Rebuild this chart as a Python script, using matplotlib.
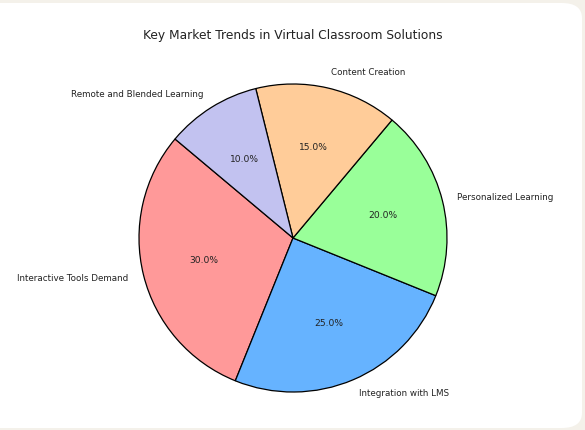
import matplotlib
matplotlib.use("Agg")
import matplotlib.pyplot as plt
from matplotlib.patches import FancyBboxPatch

# data
labels = ["Interactive Tools Demand", "Integration with LMS", "Personalized Learning",
          "Content Creation", "Remote and Blended Learning"]
sizes = [30, 25, 20, 15, 10]
colors = ["#ff9999", "#66b3ff", "#99ff99", "#ffcc99", "#c2c2f0"]

W, H = 585, 430
fig = plt.figure(figsize=(W / 100, H / 100), dpi=100)
fig.patch.set_facecolor("#f4f1ea")

# white card with rounded corners (left side runs off the image)
card = FancyBboxPatch((-30 / W, 2 / H), 612 / W, 425 / H,
                      boxstyle="round,pad=0,rounding_size=0.035",
                      transform=fig.transFigure, facecolor="white",
                      edgecolor="none", zorder=-5)
fig.patches.append(card)

ax = fig.add_axes([0, 0, 1, 1])
ax.patch.set_alpha(0)
ax.set_zorder(1)

cx, cy, r = 293, H - 238, 154
wedges, texts, autotexts = ax.pie(
    sizes, labels=labels, colors=colors, autopct="%1.1f%%", startangle=140,
    wedgeprops={"edgecolor": "black", "linewidth": 0.9},
    textprops={"fontsize": 6.3, "color": "#222222"})
for t in autotexts:
    t.set_fontsize(6.6)
ax.set_aspect("auto")
ax.set_xlim(-cx / r, (W - cx) / r)
ax.set_ylim(-cy / r, (H - cy) / r)
ax.axis("off")

fig.text(293 / W, 1 - 36 / H, "Key Market Trends in Virtual Classroom Solutions",
         ha="center", va="center", fontsize=8.8, color="#222222")

fig.savefig("out.png", dpi=100, facecolor=fig.get_facecolor())
